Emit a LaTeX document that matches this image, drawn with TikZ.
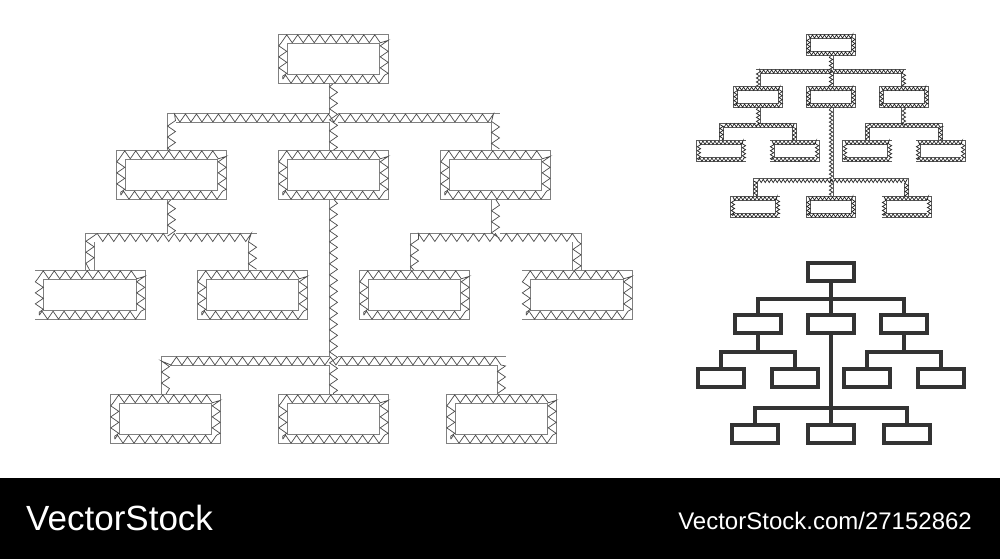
\documentclass[tikz,border=0pt]{standalone}
\usepackage{fontspec}
\usetikzlibrary{decorations.pathmorphing}
\usetikzlibrary{backgrounds}
\newfontfamily\stockfont{Liberation Sans}

\definecolor{edgegray}{gray}{0.5}
\definecolor{zaggray}{gray}{0.3}

% one hierarchy chart, boxes first and the wires behind them
\newcommand{\orgchart}[1]{%
	\node[chartbox] (#1top) at (0,0) {};
	\node[chartbox] (#1left) at (-162,116) {};
	\node[chartbox] (#1mid) at (0,116) {};
	\node[chartbox] (#1right) at (162,116) {};
	\node[chartbox] (#1ll) at (-243.5,236) {};
	\node[chartbox] (#1lr) at (-81,236) {};
	\node[chartbox] (#1rl) at (81,236) {};
	\node[chartbox] (#1rr) at (243.5,236) {};
	\node[chartbox] (#1bl) at (-168,360) {};
	\node[chartbox] (#1bm) at (0,360) {};
	\node[chartbox] (#1br) at (168,360) {};
	\begin{pgfonlayer}{background}
	\draw[chartwire] (#1left) to[bus=-57] (#1right)
		(#1top) -- (#1mid)
		(#1ll) to[bus=-57.5] (#1lr)
		(#1left) -- ++(0,62.5)
		(#1rl) to[bus=-57.5] (#1rr)
		(#1right) -- ++(0,62.5)
		(#1bl) to[bus=-58] (#1br)
		(#1mid) -- (#1bm);
	\end{pgfonlayer}
}

\begin{document}
\begin{tikzpicture}[
	x=1pt, y=-1pt,
	bus/.style={to path={-- ++(0,#1) -| (\tikztotarget)}},
	zag/.style={draw=zaggray, line width=.7pt, decorate, decoration={zigzag, amplitude=4pt, segment length=11pt}},
	meshbox/.style={minimum width=101.4pt, minimum height=40.4pt, inner sep=0pt,
		preaction={fill=white}, preaction={draw=edgegray, line width=9.6pt},
		draw=white, line width=8pt, postaction={zag}},
	meshwire/.style={preaction={draw=edgegray, line width=9.6pt},
		draw=white, line width=8pt, postaction={zag}},
	tinyzag/.style={draw=black!85, line width=.7pt, decorate, decoration={zigzag, amplitude=1.7pt, segment length=4pt}},
	tinybox/.style={minimum width=45pt, minimum height=17pt, inner sep=0pt,
		preaction={fill=white}, preaction={draw=black!65, line width=5pt},
		draw=white, line width=3.4pt, postaction={tinyzag}},
	tinywire/.style={preaction={draw=black!65, line width=5pt},
		draw=white, line width=3.4pt, postaction={tinyzag}},
	solidbox/.style={minimum width=46pt, minimum height=18pt, inner sep=0pt,
		draw=black!80, line width=4pt, fill=white},
	solidwire/.style={draw=black!80, line width=4pt},
	label/.style={text=white, inner sep=0pt, font=\stockfont\fontsize{#1}{#1}\selectfont}
	]

	\useasboundingbox (0,0) rectangle (1000,559);

	% large mesh chart
	\begin{scope}[shift={(333.5,59)}, chartbox/.style={meshbox}, chartwire/.style={meshwire}]
	\orgchart{m}
	\end{scope}

	% small mesh chart
	\begin{scope}[shift={(831,45)}, scale=.45, chartbox/.style={tinybox}, chartwire/.style={tinywire}]
	\orgchart{t}
	\end{scope}

	% flat icon
	\begin{scope}[shift={(831,272)}, scale=.45, chartbox/.style={solidbox}, chartwire/.style={solidwire}]
	\orgchart{s}
	\end{scope}

	% footer
	\fill[black] (0,478) rectangle (1000,559);
	\node[label=35pt, anchor=base west] (brand) at (26,530) {VectorStock};
	\node[label=24pt, anchor=base east] (link) at (972,529) {VectorStock.com/27152862};

\end{tikzpicture}
\end{document}
